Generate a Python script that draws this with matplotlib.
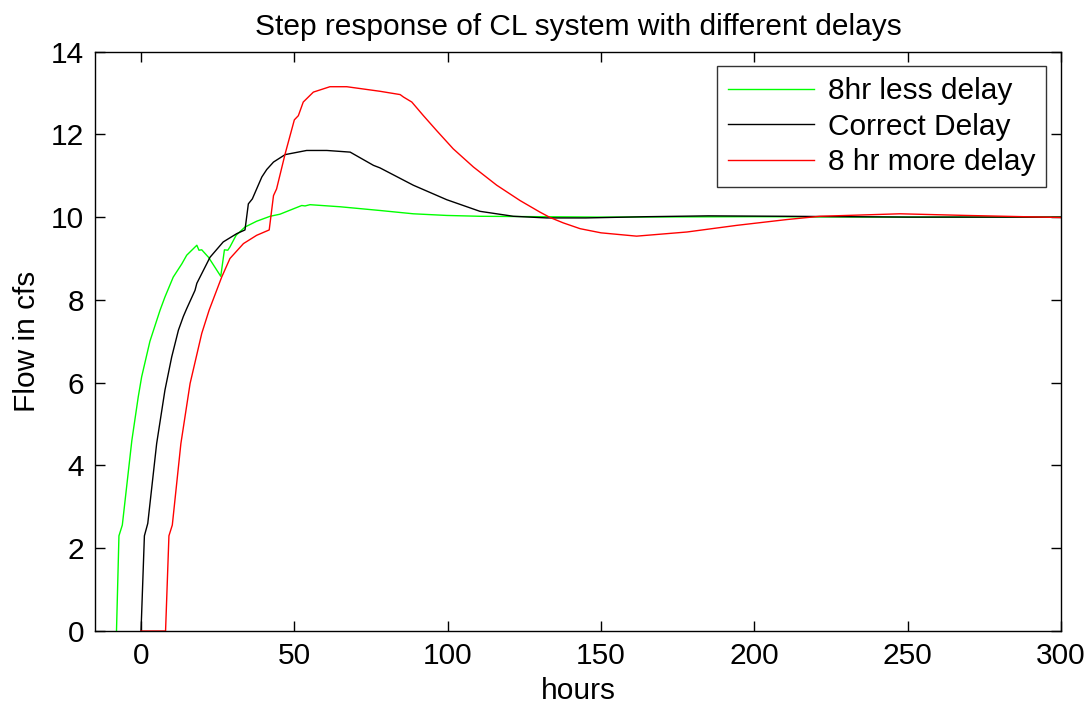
import matplotlib
matplotlib.use("Agg")
import matplotlib.pyplot as plt

# ---- data ----
green_x = [-8, -7.2, -6.1, -3.0, -0.9, 0.2, 2.9, 5.1, 6.2, 7.8, 10.5, 13.3, 14.9, 16.0, 18.2, 18.9,
           19.8, 22.0, 26.0, 27.2, 28.3, 29.0, 31.0, 33.9, 37.7, 42.1, 45.3, 48.0, 52.4, 53.5, 55.1,
           64.9, 77.9, 88.8, 99.7, 110.5, 130, 150, 200, 250, 300]
green_y = [0, 2.3, 2.56, 4.6, 5.66, 6.14, 7.0, 7.5, 7.75, 8.07, 8.55, 8.87, 9.08, 9.16, 9.32, 9.2,
           9.21, 9.03, 8.57, 9.21, 9.2, 9.28, 9.56, 9.76, 9.9, 10.02, 10.07, 10.15, 10.28, 10.27, 10.3,
           10.25, 10.16, 10.08, 10.04, 10.02, 10.01, 10.0, 10.01, 10.0, 10.0]

black_x = [0, 1.1, 2.2, 5.1, 7.8, 10.0, 12.2, 13.8, 14.9, 17.6, 18.2, 22.5, 26.8, 31.2, 33.9, 35.0,
           36.3, 37.7, 39.4, 41.0, 43.2, 47.0, 54.0, 60.6, 68.2, 75.8, 77.9, 88.8, 99.7, 110.5,
           121.4, 132.3, 145, 165, 185, 210, 250, 300]
black_y = [0, 2.3, 2.6, 4.53, 5.82, 6.62, 7.27, 7.6, 7.79, 8.23, 8.4, 9.03, 9.4, 9.6, 9.69, 10.32,
           10.44, 10.68, 10.97, 11.15, 11.33, 11.51, 11.61, 11.61, 11.57, 11.25, 11.19, 10.77, 10.42, 10.14,
           10.02, 9.98, 9.98, 10.01, 10.03, 10.02, 10.0, 10.0]

red_x = [0, 8, 9.1, 10.2, 13.0, 16.0, 19.8, 22.2, 26.3, 29.0, 33.4, 37.7, 41.8, 43.2, 44.2, 47.0,
         50.0, 51.3, 52.9, 56.2, 61.6, 67.1, 77.9, 84.5, 85.6, 88.3, 92.1, 96.4, 101.8, 108.4, 116.0,
         123.6, 130.1, 133.4, 137.7, 143.2, 150, 161.6, 178, 194.2, 210.5, 221.4, 247.5, 269.2, 300]
red_y = [0, 0, 2.3, 2.56, 4.53, 5.98, 7.19, 7.75, 8.55, 9.0, 9.36, 9.56, 9.69, 10.52, 10.68, 11.53,
         12.35, 12.45, 12.78, 13.02, 13.15, 13.15, 13.04, 12.96, 12.9, 12.78, 12.45, 12.09, 11.65, 11.21, 10.77,
         10.4, 10.12, 9.99, 9.86, 9.72, 9.62, 9.54, 9.64, 9.8, 9.94, 10.02, 10.08, 10.04, 9.99]

labels = ["8hr less delay", "Correct Delay", "8 hr more delay"]
x_ticks = [0, 50, 100, 150, 200, 250, 300]
y_ticks = [0, 2, 4, 6, 8, 10, 12, 14]

plt.rcParams['font.family'] = ['Liberation Sans', 'DejaVu Sans']
FS = 21.5

fig = plt.figure(figsize=(10.91, 7.06), dpi=100)
ax = fig.add_axes([0.0871, 0.1062, 0.8854, 0.8208])

ax.plot(green_x, green_y, color='#00ff00', lw=1.0, label=labels[0])
ax.plot(black_x, black_y, color='black', lw=1.0, label=labels[1])
ax.plot(red_x, red_y, color='red', lw=1.0, label=labels[2])

ax.set_xlim(-15, 300)
ax.set_ylim(0, 14)
ax.set_xticks(x_ticks)
ax.set_yticks(y_ticks)
ax.tick_params(direction='in', top=True, right=True, length=7, width=1.0, labelsize=FS, pad=8)
for s in ax.spines.values():
    s.set_linewidth(1.0)

ax.set_title("Step response of CL system with different delays", fontsize=FS, pad=12)
ax.set_xlabel("hours", fontsize=FS, labelpad=5)
ax.set_ylabel("Flow in cfs", fontsize=FS, labelpad=7)

leg = ax.legend(loc='upper right', fontsize=FS, frameon=True, fancybox=False, edgecolor='black',
                handlelength=2.9, handletextpad=0.45, borderaxespad=0.5, borderpad=0.36,
                labelspacing=0.25)
leg.get_frame().set_linewidth(1.0)

fig.savefig("out.png", dpi=100)
